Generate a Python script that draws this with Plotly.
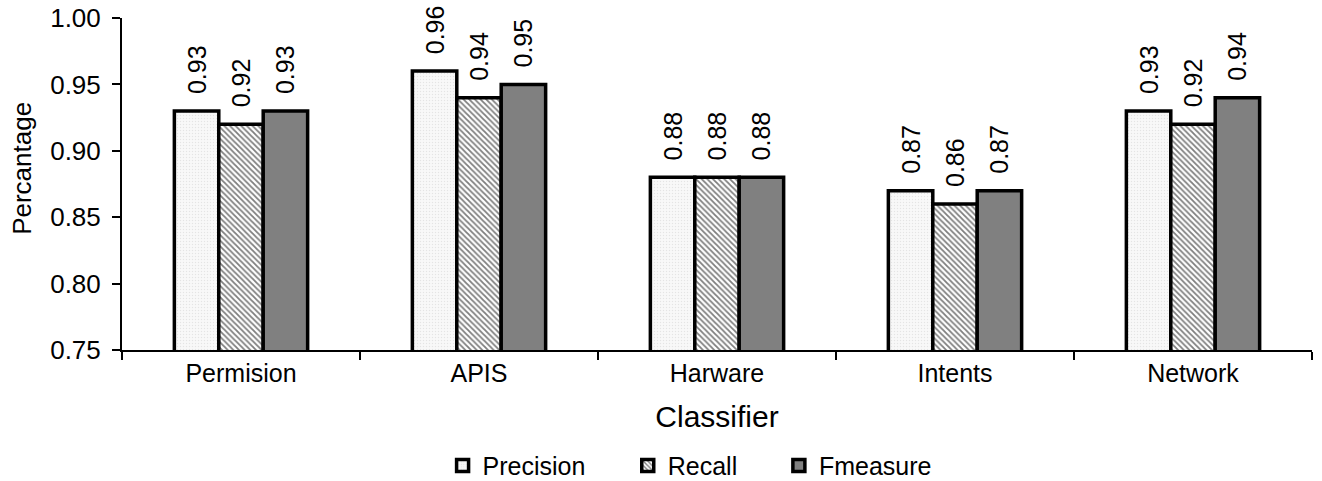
import plotly.graph_objects as go

categories = ["Permision", "APIS", "Harware", "Intents", "Network"]
precision = [0.93, 0.96, 0.88, 0.87, 0.93]
recall = [0.92, 0.94, 0.88, 0.86, 0.92]
fmeasure = [0.93, 0.95, 0.88, 0.87, 0.94]
y_ticks = [0.75, 0.80, 0.85, 0.90, 0.95, 1.00]

FONT = "Liberation Sans, Arial, sans-serif"
fig = go.Figure()
series = [
    ("Precision", precision, "legend",
     dict(color="#f7f7f7", pattern=dict(shape=".", fgcolor="#d0d0d0", bgcolor="#f8f8f8", size=3, solidity=0.2))),
    ("Recall", recall, "legend2",
     dict(color="white", pattern=dict(shape="\\", fgcolor="black", bgcolor="white", size=4, solidity=0.45))),
    ("Fmeasure", fmeasure, "legend3", dict(color="#808080")),
]
for name, vals, leg, mk in series:
    fig.add_trace(go.Bar(
        name=name, x=categories, y=vals, legend=leg,
        marker=dict(line=dict(color="black", width=3.5), **mk),
        text=["\u00a0\u00a0" + f"{v:.2f}" for v in vals], textposition="outside", textangle=-90,
        textfont=dict(family=FONT, size=25, color="black"),
        outsidetextfont=dict(family=FONT, size=25, color="black"),
        constraintext="none",
        cliponaxis=False,
    ))

leg_common = dict(orientation="h", yanchor="middle", y=-0.349, xanchor="left",
                  font=dict(family=FONT, size=25), itemwidth=30, bgcolor="rgba(0,0,0,0)")
fig.update_layout(
    width=1322, height=481,
    margin=dict(l=122, r=10, t=18, b=131, autoexpand=False),
    plot_bgcolor="white", paper_bgcolor="white",
    barmode="group", bargap=0.44, bargroupgap=0,
    font=dict(family=FONT, color="black"),
    showlegend=True,
    legend=dict(x=0.2694, **leg_common),
    legend2=dict(x=0.4250, **leg_common),
    legend3=dict(x=0.5520, **leg_common),
    yaxis=dict(range=[0.75, 1.0], tickvals=y_ticks, ticktext=[f"{t:.2f}" for t in y_ticks],
               showgrid=False, zeroline=False, showline=True, linecolor="black", linewidth=2,
               ticks="outside", ticklen=8, tickwidth=2, tickcolor="black",
               tickfont=dict(family=FONT, size=26), ticklabelstandoff=6),
    xaxis=dict(showgrid=False, showline=True, linecolor="black", linewidth=2,
               ticks="outside", tickson="boundaries", ticklen=8, tickwidth=2, tickcolor="black",
               tickfont=dict(family=FONT, size=25),
               title=dict(text="Classifier", font=dict(family=FONT, size=30), standoff=20)),
    annotations=[dict(text="Percantage", textangle=-90, xref="paper", yref="paper",
                      x=-0.0842, y=0.548, xanchor="center", yanchor="middle", showarrow=False,
                      font=dict(family=FONT, size=26, color="black"))],
)

fig.write_html("out.html")
